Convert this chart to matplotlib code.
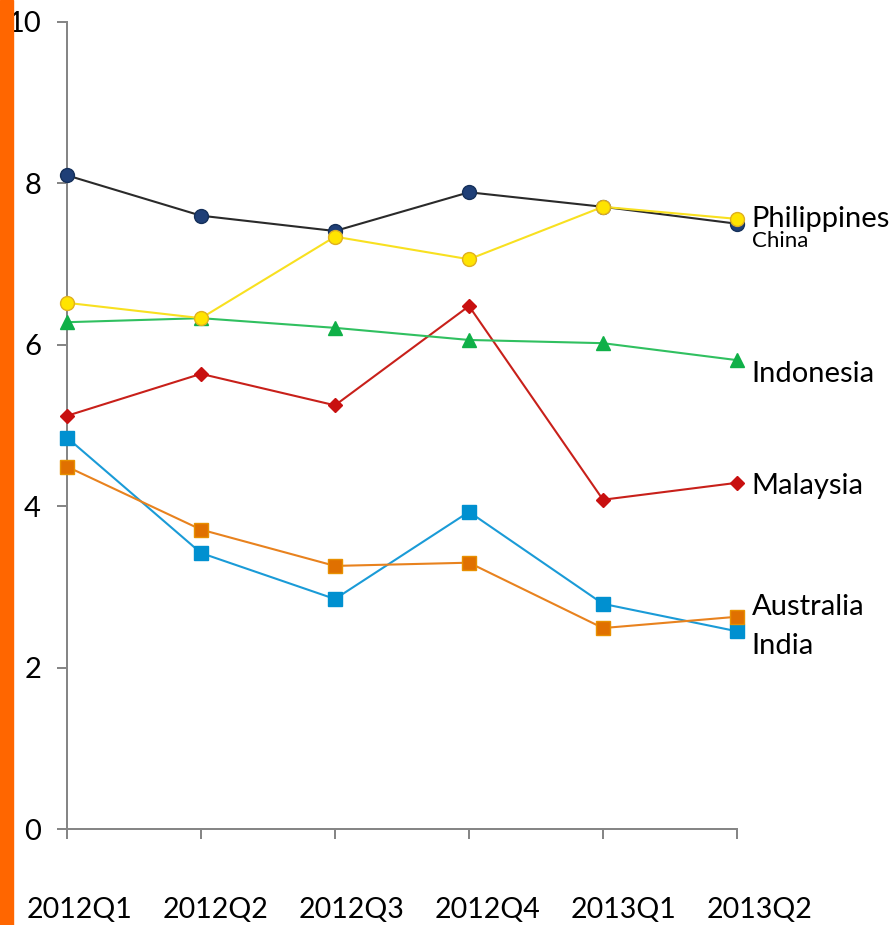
import matplotlib.pyplot as plt
import matplotlib.patches as patches
from matplotlib.transforms import ScaledTranslation

quarters = ["2012Q1", "2012Q2", "2012Q3", "2012Q4", "2013Q1", "2013Q2"]
china = [8.10, 7.60, 7.41, 7.89, 7.71, 7.50]
philippines = [6.52, 6.33, 7.34, 7.06, 7.71, 7.56]
indonesia = [6.28, 6.33, 6.21, 6.06, 6.02, 5.81]
malaysia = [5.12, 5.64, 5.25, 6.48, 4.08, 4.29]
india = [4.85, 3.42, 2.85, 3.93, 2.79, 2.45]
australia = [4.49, 3.71, 3.26, 3.30, 2.49, 2.63]

plt.rcParams['font.family'] = ['Lato', 'DejaVu Sans']

fig = plt.figure(figsize=(8.94, 9.25), dpi=100)
ax = fig.add_axes([67/894, 1 - 829/925, (737-67)/894, (829-22)/925])

# orange strip on the left edge
fig.patches.append(patches.Rectangle((0, 0), 13/894, 1, transform=fig.transFigure,
                                     color="#FF6600", zorder=0))

x = range(len(quarters))
series = [
    (india, "#1A9BD7", "s", "#0090D0", "#0090D0", 10),
    (australia, "#E8821E", "s", "#E07000", "#E89000", 10),
    (malaysia, "#C8201A", "D", "#C81010", "#C81010", 7),
    (indonesia, "#30C060", "^", "#10B048", "#10B048", 10),
    (china, "#2A2A2A", "o", "#1F3F77", "#15305A", 10),
    (philippines, "#F8E020", "o", "#FFE400", "#E0B020", 10),
]
for vals, lc, mk, fc, ec, ms in series:
    ax.plot(x, vals, color=lc, lw=1.5, marker=mk, markersize=ms,
            markerfacecolor=fc, markeredgecolor=ec, markeredgewidth=1,
            clip_on=False, zorder=3)

ax.set_xlim(0, 5)
ax.set_ylim(0, 10)
ax.set_yticks([0, 2, 4, 6, 8, 10])
ax.set_xticks(list(x))
ax.set_xticklabels(quarters, fontsize=20.5)
ax.tick_params(axis='x', direction='out', length=7.2, width=1.44, color="#868686", pad=42)
ax.tick_params(axis='y', direction='out', length=7.2, width=1.44, color="#868686", pad=11.5,
               labelsize=21)
# category labels sit a little right of their ticks
for i, lbl in enumerate(ax.get_xticklabels()):
    lbl.set_transform(lbl.get_transform() +
                      ScaledTranslation((12 + 2.2 * i) / 100, 0, fig.dpi_scale_trans))
for s in ['top', 'right']:
    ax.spines[s].set_visible(False)
for s in ['left', 'bottom']:
    ax.spines[s].set_color("#868686")
    ax.spines[s].set_linewidth(1.44)

lab = dict(transform=ax.transData, clip_on=False, va='baseline', ha='left')
ax.text(5.11, 7.46, "Philippines", fontsize=21, **lab)
ax.text(5.11, 7.21, "China", fontsize=16, **lab)
ax.text(5.11, 5.54, "Indonesia", fontsize=21, **lab)
ax.text(5.11, 4.15, "Malaysia", fontsize=21, **lab)
ax.text(5.11, 2.65, "Australia", fontsize=21, **lab)
ax.text(5.11, 2.17, "India", fontsize=21, **lab)

fig.savefig("out.png", dpi=100)
